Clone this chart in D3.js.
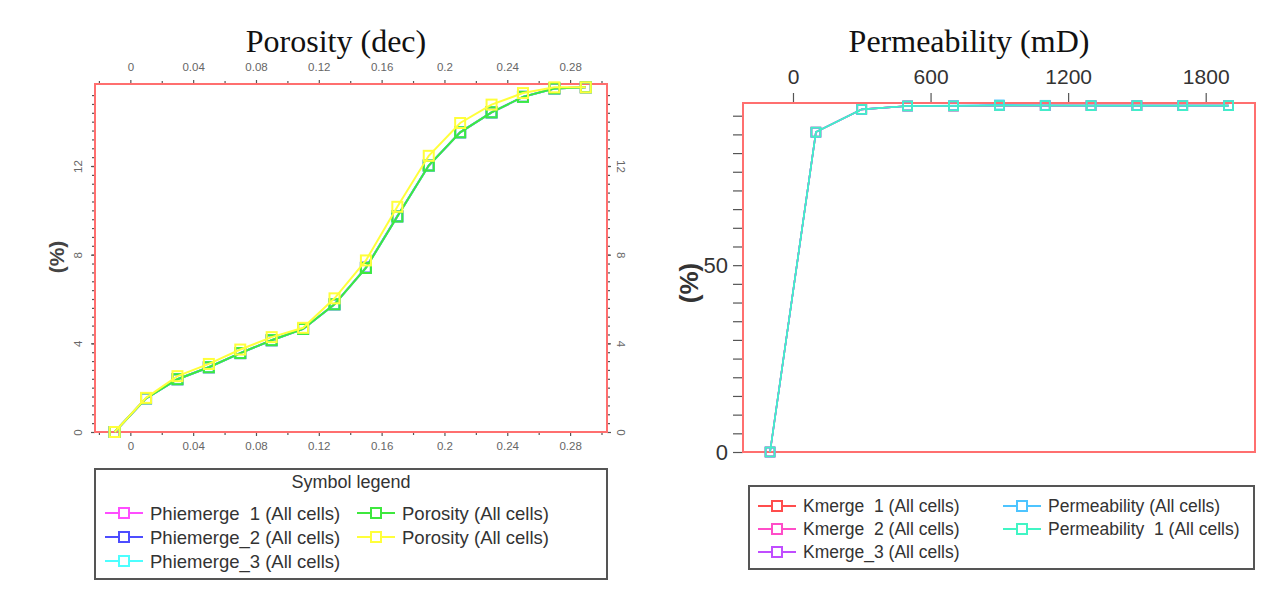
<!DOCTYPE html>
<html>
<head>
<meta charset="utf-8">
<script src="https://cdn.jsdelivr.net/npm/d3@7"></script>
<style>
	body { margin: 0; background: #fff; }
	svg text { font-family: "Liberation Sans", Arial, sans-serif; }
</style>
</head>
<body>
<svg id="chart" width="1268" height="604"></svg>
<script>
// ---- porosity panel data (cumulative %, per bin centre)
let porosityBins = [-0.01, 0.01, 0.03, 0.05, 0.07, 0.09, 0.11, 0.13, 0.15, 0.17, 0.19, 0.21, 0.23, 0.25, 0.27, 0.29];
let phiemerge1 = [0, 1.52, 2.38, 2.92, 3.56, 4.14, 4.65, 5.76, 7.40, 9.72, 12.02, 13.52, 14.42, 15.12, 15.50, 15.55];
let phiemerge2 = [0, 1.52, 2.38, 2.92, 3.56, 4.14, 4.65, 5.76, 7.42, 9.74, 12.02, 13.52, 14.42, 15.12, 15.50, 15.55];
let phiemerge3 = [0, 1.52, 2.38, 2.92, 3.56, 4.14, 4.65, 5.76, 7.40, 9.72, 12.02, 13.52, 14.42, 15.12, 15.50, 15.55];
let porosityGreen = [0, 1.52, 2.38, 2.92, 3.56, 4.14, 4.65, 5.76, 7.40, 9.72, 12.02, 13.52, 14.42, 15.12, 15.50, 15.55];
let porosityYellow = [0, 1.54, 2.52, 3.07, 3.72, 4.28, 4.70, 6.03, 7.74, 10.16, 12.46, 13.94, 14.77, 15.29, 15.55, 15.55];
let porosityNames = ["Phiemerge  1 (All cells)", "Phiemerge_2 (All cells)", "Phiemerge_3 (All cells)", "Porosity (All cells)", "Porosity (All cells)"];
let porosityColors = ["#ff4dff", "#4d4dff", "#4dffff", "#3ee83e", "#ffff3a"];
let porosityTicks = [0, 0.04, 0.08, 0.12, 0.16, 0.2, 0.24, 0.28];
let porosityMinor = [-0.02, 0.02, 0.06, 0.10, 0.14, 0.18, 0.22, 0.26, 0.30];
let porosityYTicks = [0, 4, 8, 12];

// ---- permeability panel data
let permBins = [-100, 100, 300, 500, 700, 900, 1100, 1300, 1500, 1700, 1900];
let kmerge1 = [0, 85.6, 91.7, 92.6, 92.6, 92.7, 92.7, 92.7, 92.7, 92.7, 92.7];
let kmerge2 = [0, 85.6, 91.7, 92.6, 92.6, 92.7, 92.7, 92.7, 92.7, 92.7, 92.7];
let kmerge3 = [0, 85.6, 91.7, 92.6, 92.6, 92.7, 92.7, 92.7, 92.7, 92.7, 92.7];
let permeability = [0, 85.6, 91.7, 92.6, 92.7, 92.9, 92.8, 92.7, 92.7, 92.7, 92.7];
let permeability1 = [0, 85.6, 91.7, 92.6, 92.6, 92.7, 92.7, 92.7, 92.7, 92.7, 92.7];
let permNames = ["Kmerge  1 (All cells)", "Kmerge  2 (All cells)", "Kmerge_3 (All cells)", "Permeability (All cells)", "Permeability  1 (All cells)"];
let permColors = ["#ff4d4d", "#ff4dc8", "#c04dff", "#4dc4ff", "#40f5c4"];
let permTicks = [0, 600, 1200, 1800];
let permYTicks = [0, 50];
let permYMinor = [5, 10, 15, 20, 25, 30, 35, 40, 45, 55, 60, 65, 70, 75, 80, 85, 90];

let svg = d3.select("svg#chart"),
	frameColor = "#ff6f6f",
	tickColor = "#555";

function styleAxis(g, size, color) {
	g.select(".domain").remove();
	g.attr("font-family", null).attr("font-size", size);
	g.selectAll(".tick line").attr("stroke", tickColor).attr("stroke-width", 1.2);
	g.selectAll(".tick text").attr("fill", color);
}

function drawSeries(g, bins, series, colors, x, y, lw, box) {
	let line = d3.line()
		.x(function(d) { return x(d[0]); })
		.y(function(d) { return y(d[1]); });

	series.forEach(function(values, i) {
		let pts = bins.map(function(b, j) { return [b, values[j]]; });
		g.append("path")
			.datum(pts)
			.attr("fill", "none")
			.attr("stroke", colors[i])
			.attr("stroke-width", lw)
			.attr("d", line);
		g.selectAll(null)
			.data(pts)
			.enter().append("rect")
			.attr("x", function(d) { return x(d[0]) - box / 2; })
			.attr("y", function(d) { return y(d[1]) - box / 2; })
			.attr("width", box)
			.attr("height", box)
			.attr("fill", "none")
			.attr("stroke", colors[i])
			.attr("stroke-width", lw);
	});
}

function drawLegend(g, names, colors, cols, rows, size) {
	g.selectAll(null)
		.data(names)
		.enter().append("g")
		.attr("transform", function(d, i) { return "translate(" + cols[i] + "," + rows[i] + ")"; })
		.each(function(d, i) {
			let row = d3.select(this);
			row.append("line").attr("x1", 0).attr("x2", 38).attr("stroke", colors[i]).attr("stroke-width", 2);
			row.append("rect").attr("x", 14).attr("y", -5).attr("width", 10).attr("height", 10)
				.attr("fill", "#fff").attr("stroke", colors[i]).attr("stroke-width", 2);
			row.append("text").attr("x", 45).attr("dy", "0.36em")
				.attr("fill", "#333").style("font-size", size + "px")
				.style("white-space", "pre").text(d);
		});
}

// ================= left: porosity
let xPor = d3.scaleLinear().domain([-0.0225, 0.3035]).range([95, 607]),
	yPor = d3.scaleLinear().domain([0, 15.7]).range([432, 84]),
	fmt = d3.format("~g");

let left = svg.append("g");

left.append("text")
	.attr("x", 336).attr("y", 52)
	.attr("text-anchor", "middle")
	.style("font-family", "'Liberation Serif', 'Times New Roman', serif")
	.style("font-size", "32px")
	.attr("fill", "#111")
	.text("Porosity (dec)");

left.append("g").attr("transform", "translate(0,84)")
	.call(d3.axisTop(xPor).tickValues(porosityTicks).tickSize(4).tickPadding(9).tickFormat(fmt))
	.call(styleAxis, 11.5, "#666");
left.append("g").attr("transform", "translate(0,84)")
	.call(d3.axisTop(xPor).tickValues(porosityMinor).tickSize(3).tickFormat(""))
	.call(styleAxis, 11.5, "#666");
left.append("g").attr("transform", "translate(0,432)")
	.call(d3.axisBottom(xPor).tickValues(porosityTicks).tickSize(4).tickPadding(6).tickFormat(fmt))
	.call(styleAxis, 11.5, "#666");
left.append("g").attr("transform", "translate(0,432)")
	.call(d3.axisBottom(xPor).tickValues(porosityMinor).tickSize(3).tickFormat(""))
	.call(styleAxis, 11.5, "#666");

// y axes, labels turned sideways
let yMinor = d3.range(0.4, 15.6, 0.4);
left.append("g").attr("transform", "translate(95,0)")
	.call(d3.axisLeft(yPor).tickValues(yMinor).tickSize(3).tickFormat(""))
	.call(styleAxis, 11.5, "#666");
left.append("g").attr("transform", "translate(95,0)")
	.call(d3.axisLeft(yPor).tickValues(porosityYTicks).tickSize(4).tickFormat(fmt))
	.call(styleAxis, 11.5, "#666")
	.selectAll(".tick text")
	.attr("x", 0).attr("dy", "0.35em")
	.attr("text-anchor", "middle")
	.attr("transform", "translate(-17,0) rotate(-90)");
left.append("g").attr("transform", "translate(607,0)")
	.call(d3.axisRight(yPor).tickValues(yMinor).tickSize(3).tickFormat(""))
	.call(styleAxis, 11.5, "#666");
left.append("g").attr("transform", "translate(607,0)")
	.call(d3.axisRight(yPor).tickValues(porosityYTicks).tickSize(4).tickFormat(fmt))
	.call(styleAxis, 11.5, "#666")
	.selectAll(".tick text")
	.attr("x", 0).attr("dy", "0.35em")
	.attr("text-anchor", "middle")
	.attr("transform", "translate(14,0) rotate(90)");

left.append("text")
	.attr("transform", "translate(57,257) rotate(-90)")
	.attr("text-anchor", "middle").attr("dy", "0.35em")
	.style("font-size", "21px").style("font-weight", "bold")
	.attr("fill", "#444")
	.text("(%)");

left.append("rect")
	.attr("x", 95).attr("y", 84).attr("width", 512).attr("height", 348)
	.attr("fill", "none").attr("stroke", frameColor).attr("stroke-width", 2);

drawSeries(left.append("g"), porosityBins,
	[phiemerge1, phiemerge2, phiemerge3, porosityGreen, porosityYellow],
	porosityColors, xPor, yPor, 2, 10);

// legend
let legL = left.append("g");
legL.append("rect")
	.attr("x", 95).attr("y", 469).attr("width", 512).attr("height", 110)
	.attr("fill", "#fff").attr("stroke", "#555").attr("stroke-width", 2);
legL.append("text")
	.attr("x", 351).attr("y", 482).attr("dy", "0.35em")
	.attr("text-anchor", "middle").attr("fill", "#333")
	.style("font-size", "18px")
	.text("Symbol legend");
drawLegend(legL, porosityNames, porosityColors, [105, 105, 105, 357, 357], [513, 537, 561, 513, 537], 18.5);

// ================= right: permeability
let xPerm = d3.scaleLinear().domain([-218, 2015]).range([743, 1255]),
	yPerm = d3.scaleLinear().domain([0, 93.4]).range([452, 103]);

let right = svg.append("g");

right.append("text")
	.attr("x", 969).attr("y", 52)
	.attr("text-anchor", "middle")
	.style("font-family", "'Liberation Serif', 'Times New Roman', serif")
	.style("font-size", "32px")
	.attr("fill", "#111")
	.text("Permeability (mD)");

right.append("g").attr("transform", "translate(0,103)")
	.call(d3.axisTop(xPerm).tickValues(permTicks).tickSize(10).tickPadding(9).tickFormat(d3.format("d")))
	.call(styleAxis, 21, "#333");

right.append("g").attr("transform", "translate(743,0)")
	.call(d3.axisLeft(yPerm).tickValues(permYMinor).tickSize(10).tickFormat(""))
	.call(styleAxis, 22, "#333");
right.append("g").attr("transform", "translate(743,0)")
	.call(d3.axisLeft(yPerm).tickValues(permYTicks).tickSize(10).tickPadding(5).tickFormat(d3.format("d")))
	.call(styleAxis, 22, "#333");

right.append("text")
	.attr("transform", "translate(689,283) rotate(-90)")
	.attr("text-anchor", "middle").attr("dy", "0.35em")
	.style("font-size", "26px").style("font-weight", "bold")
	.attr("fill", "#333")
	.text("(%)");

right.append("rect")
	.attr("x", 743).attr("y", 103).attr("width", 512).attr("height", 349)
	.attr("fill", "none").attr("stroke", frameColor).attr("stroke-width", 2);

drawSeries(right.append("g"), permBins,
	[kmerge1, kmerge2, kmerge3, permeability, permeability1],
	permColors, xPerm, yPerm, 1.6, 9);

let legR = right.append("g");
legR.append("rect")
	.attr("x", 749).attr("y", 486).attr("width", 505).attr("height", 83)
	.attr("fill", "#fff").attr("stroke", "#555").attr("stroke-width", 2);
drawLegend(legR, permNames, permColors, [758, 758, 758, 1003, 1003], [506, 529, 552, 506, 529], 17.5);
</script>
</body>
</html>
